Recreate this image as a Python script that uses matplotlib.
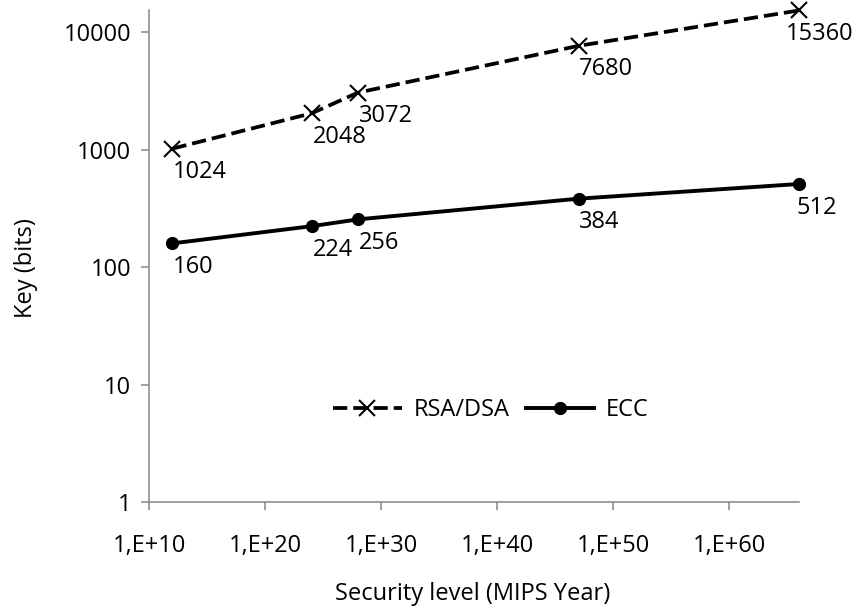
import numpy as np
import matplotlib
matplotlib.use('Agg')
import matplotlib.pyplot as plt

plt.rcParams['font.family'] = ['Open Sans', 'DejaVu Sans']

# security level in MIPS years and key sizes in bits
security = [1e12, 1e24, 1e28, 1e47, 1e66]
rsa_bits = [1024, 2048, 3072, 7680, 15360]
ecc_bits = [160, 224, 256, 384, 512]

x_ticks = [1e10, 1e20, 1e30, 1e40, 1e50, 1e60]
x_tick_labels = ['1,E+10', '1,E+20', '1,E+30', '1,E+40', '1,E+50', '1,E+60']
y_ticks = [1, 10, 100, 1000, 10000]
y_tick_labels = ['1', '10', '100', '1000', '10000']

axis_grey = '#868686'
fs = 17

fig = plt.figure(figsize=(8.57, 6.09), dpi=100)
ax = fig.add_axes([0.1742, 0.1752, 0.9323 - 0.1742, 0.9836 - 0.1752])

ax.plot(security, rsa_bits, color='black', lw=2.7, ls=(0, (3.8, 1.6)),
        marker='x', ms=11, mew=1.5, label='RSA/DSA', clip_on=False)
ax.plot(security, ecc_bits, color='black', lw=2.8, ls='-',
        marker='o', ms=8.5, label='ECC', clip_on=False)

# data labels sit just below the points, left aligned
for i, (x, y) in enumerate(zip(security, rsa_bits)):
    dx = -9.5 if i == len(security) - 1 else 0.5
    ax.annotate(str(y), (x, y), xytext=(dx, -17), textcoords='offset points',
                ha='left', va='center', fontsize=fs)
for i, (x, y) in enumerate(zip(security, ecc_bits)):
    dx = -1.5 if i == len(security) - 1 else 0.5
    ax.annotate(str(y), (x, y), xytext=(dx, -17), textcoords='offset points',
                ha='left', va='center', fontsize=fs)

ax.set_xscale('log')
ax.set_yscale('log')
ax.set_xlim(1e10, 1e66)
ax.set_ylim(1, 15500)

ax.xaxis.set_major_locator(matplotlib.ticker.FixedLocator(x_ticks))
ax.xaxis.set_minor_locator(matplotlib.ticker.NullLocator())
ax.set_xticklabels(x_tick_labels)
ax.yaxis.set_major_locator(matplotlib.ticker.FixedLocator(y_ticks))
ax.yaxis.set_minor_locator(matplotlib.ticker.NullLocator())
ax.set_yticklabels(y_tick_labels)

for s in ['top', 'right']:
    ax.spines[s].set_visible(False)
for s in ['left', 'bottom']:
    ax.spines[s].set_color(axis_grey)
    ax.spines[s].set_linewidth(1.1)

ax.tick_params(axis='both', color=axis_grey, width=1.1, length=6, labelsize=fs)
ax.tick_params(axis='x', pad=17)
ax.tick_params(axis='y', pad=7)

ax.set_xlabel('Security level (MIPS Year)', fontsize=fs)
ax.set_ylabel('Key (bits)', fontsize=fs)
ax.xaxis.set_label_coords(0.498, -0.162)
ax.yaxis.set_label_coords(-0.172, 0.476)

ax.legend(loc='center', bbox_to_anchor=(0.526, 0.1875), ncol=2, frameon=False,
          fontsize=fs, handlelength=2.9, handletextpad=0.5, columnspacing=0.7)

fig.savefig('out.png', dpi=100)
